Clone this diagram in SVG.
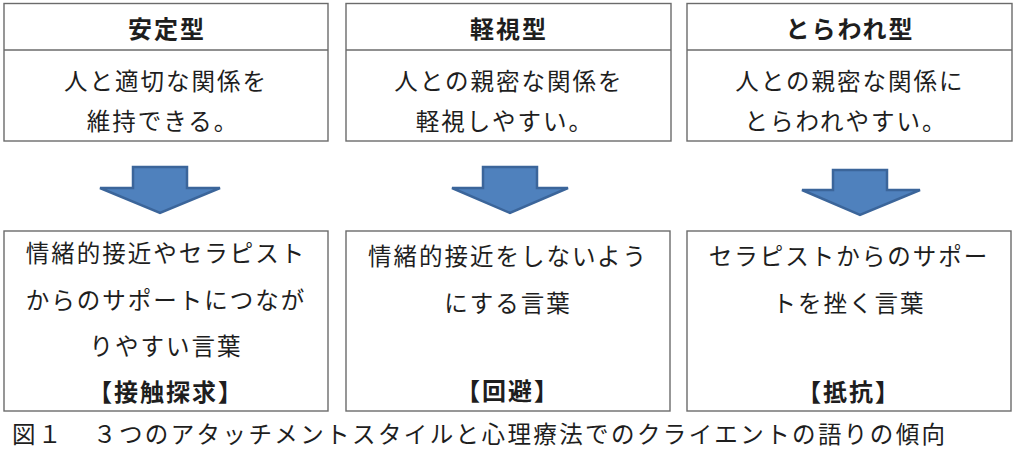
<svg xmlns="http://www.w3.org/2000/svg" width="1024" height="456" viewBox="0 0 1024 456">
<style>
.box{fill:#fff;stroke:#6b6b6b;stroke-width:1.4}
.div{stroke:#6b6b6b;stroke-width:1.4}
.t{font-family:"Noto Sans CJK JP","Noto Sans CJK SC",sans-serif;font-size:23.5px;fill:#1e1e1e;text-anchor:middle;dominant-baseline:central;letter-spacing:2px}
.h{font-weight:bold;font-size:24px}
.cap{text-anchor:start;letter-spacing:2.4px}
.arr{fill:#4f81bd;stroke:#3b659a;stroke-width:2.5;stroke-linejoin:miter}
</style>
<rect width="1024" height="456" fill="#fff"/>
<g id="secure">
<rect class="box" x="4" y="3.5" width="324" height="137.5"/>
<line class="div" x1="4" y1="50" x2="328" y2="50"/>
<text class="t h" x="167" y="27">安定型</text>
<text class="t" x="166" y="80">人と適切な関係を</text>
<text class="t" x="163" y="120">維持できる。</text>
</g>
<g id="dismissing">
<rect class="box" x="346" y="3.5" width="325" height="137.5"/>
<line class="div" x1="346" y1="50" x2="671" y2="50"/>
<text class="t h" x="509" y="27">軽視型</text>
<text class="t" x="509" y="80">人との親密な関係を</text>
<text class="t" x="505" y="120">軽視しやすい。</text>
</g>
<g id="preoccupied">
<rect class="box" x="687" y="3.5" width="325" height="137.5"/>
<line class="div" x1="687" y1="50" x2="1012" y2="50"/>
<text class="t h" x="850" y="27">とらわれ型</text>
<text class="t" x="850" y="80">人との親密な関係に</text>
<text class="t" x="846" y="120">とらわれやすい。</text>
</g>
<g id="connectors">
<polygon class="arr" points="133,167 187,167 187,188 220,188 160,213 100,188 133,188"/>
<polygon class="arr" points="483,167 537,167 537,188 568,188 510,213 452,188 483,188"/>
<polygon class="arr" points="833,170 887,170 887,190 920,190 860,215 802,190 833,190"/>
</g>
<g id="contact-seeking">
<rect class="box" x="4" y="231" width="324" height="180"/>
<text class="t" x="166" y="252">情緒的接近やセラピスト</text>
<text class="t" x="166" y="299">からのサポートにつなが</text>
<text class="t" x="166" y="345">りやすい言葉</text>
<text class="t h" x="166" y="390">【接触探求】</text>
</g>
<g id="avoidance">
<rect class="box" x="346" y="231" width="324" height="180"/>
<text class="t" x="508" y="255">情緒的接近をしないよう</text>
<text class="t" x="508" y="302">にする言葉</text>
<text class="t h" x="508" y="389">【回避】</text>
</g>
<g id="resistance">
<rect class="box" x="687" y="231" width="324" height="180"/>
<text class="t" x="849" y="255">セラピストからのサポー</text>
<text class="t" x="849" y="302">トを挫く言葉</text>
<text class="t h" x="849" y="390">【抵抗】</text>
</g>
<text class="t cap" x="12" y="433">図１<tspan x="93">３つのアタッチメントスタイルと心理療法でのクライエントの語りの傾向</tspan></text>
</svg>
